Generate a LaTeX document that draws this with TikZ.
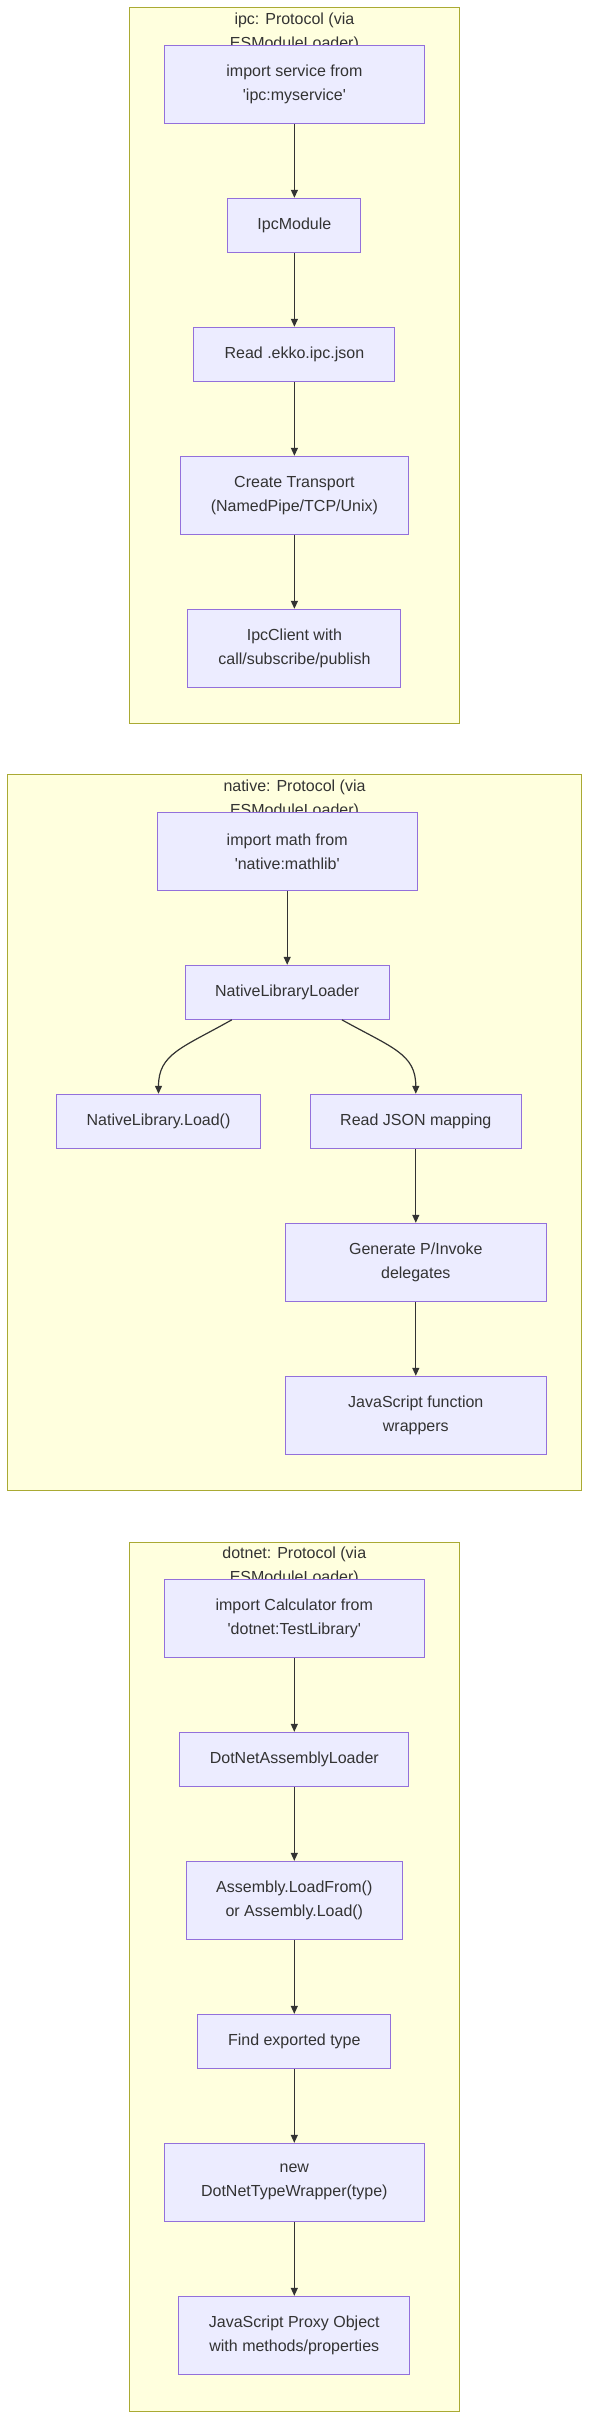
\documentclass[tikz,border=0pt]{standalone}
\usepackage{fontspec}
\setmainfont{Liberation Sans}
\usetikzlibrary{arrows.meta,calc}
\definecolor{clfill}{HTML}{FFFFDE}
\definecolor{clline}{HTML}{AAAA33}
\definecolor{ndfill}{HTML}{ECECFF}
\definecolor{ndline}{HTML}{9370DB}
\definecolor{txt}{HTML}{333333}
\newcommand{\q}{\textquotesingle}
\begin{document}
\begin{tikzpicture}[x=1pt,y=-1pt,
  cluster/.style={draw=clline,fill=clfill,line width=1pt},
  ctitle/.style={text=txt,font=\fontsize{16}{24}\selectfont,align=center,inner sep=0pt},
  box/.style={draw=ndline,fill=ndfill,line width=1pt,text=txt,
    font=\fontsize{16}{24}\selectfont,align=center,inner sep=0pt},
  edge/.style={draw=txt,line width=1.2pt,-{Triangle[length=8pt,width=7pt]}}]
\useasboundingbox (0,0) rectangle (589,2420);
% ---------------- ipc cluster
\draw[cluster] (129.3,7.3) rectangle (459.3,723);
\node[ctitle] (ipct) at (294.4,32) {ipc: Protocol (via\\ESModuleLoader)};
\node[box,minimum width=260pt,minimum height=78pt] (i1) at (294.4,84.3) {import service from\\\q ipc:myservice\q};
\node[box,minimum width=133pt,minimum height=54pt] (i2) at (294.4,225.3) {IpcModule};
\node[box,minimum width=201pt,minimum height=54pt] (i3) at (294.4,354.3) {Read .ekko.ipc.json};
\node[box,minimum width=228pt,minimum height=78pt] (i4) at (294.4,495.3) {Create Transport\\(NamedPipe/TCP/Unix)};
\node[box,minimum width=213pt,minimum height=78pt] (i5) at (294.4,648.3) {IpcClient with\\call/subscribe/publish};
\draw[edge] (i1.south) -- (i2.north);
\draw[edge] (i2.south) -- (i3.north);
\draw[edge] (i3.south) -- (i4.north);
\draw[edge] (i4.south) -- (i5.north);
% ---------------- native cluster
\draw[cluster] (7.5,774.7) rectangle (581.5,1490);
\node[ctitle] (nat) at (294.5,799) {native: Protocol (via\\ESModuleLoader)};
\node[box,minimum width=260pt,minimum height=78pt] (n1) at (287.2,851.3) {import math from\\\q native:mathlib\q};
\node[box,minimum width=204pt,minimum height=54pt] (n2) at (287.2,992.3) {NativeLibraryLoader};
\node[box,minimum width=204pt,minimum height=54pt] (n3) at (158.5,1121.3) {NativeLibrary.Load()};
\node[box,minimum width=211pt,minimum height=54pt] (n4) at (415.8,1121.3) {Read JSON mapping};
\node[box,minimum width=260.5pt,minimum height=78pt] (n5) at (415.8,1262.3) {Generate P/Invoke\\delegates};
\node[box,minimum width=260.5pt,minimum height=78pt] (n6) at (415.8,1415.3) {JavaScript function\\wrappers};
\draw[edge] (n1.south) -- (n2.north);
\draw[edge] ($(n2.south)+(-55.4,0)$) .. controls ($(n2.south)+(-105,28)$) and ($(n3.north)+(0,-40)$) .. (n3.north);
\draw[edge] ($(n2.south)+(54.7,0)$) .. controls ($(n2.south)+(105,28)$) and ($(n4.north)+(0,-40)$) .. (n4.north);
\draw[edge] (n4.south) -- (n5.north);
\draw[edge] (n5.south) -- (n6.north);
% ---------------- dotnet cluster
\draw[cluster] (129.3,1542) rectangle (459.3,2411.7);
\node[ctitle] (dot) at (294.3,1566) {dotnet: Protocol (via\\ESModuleLoader)};
\node[box,minimum width=260pt,minimum height=78pt] (d1) at (294.3,1618.3) {import Calculator from\\\q dotnet:TestLibrary\q};
\node[box,minimum width=228.7pt,minimum height=54pt] (d2) at (294.3,1759.3) {DotNetAssemblyLoader};
\node[box,minimum width=216pt,minimum height=78pt] (d3) at (294.3,1900.3) {Assembly.LoadFrom()\\or Assembly.Load()};
\node[box,minimum width=193pt,minimum height=54pt] (d4) at (294.3,2041.3) {Find exported type};
\node[box,minimum width=260pt,minimum height=78pt] (d5) at (294.3,2182.3) {new\\DotNetTypeWrapper(type)};
\node[box,minimum width=230.7pt,minimum height=78pt] (d6) at (294.3,2335.3) {JavaScript Proxy Object\\with methods/properties};
\draw[edge] (d1.south) -- (d2.north);
\draw[edge] (d2.south) -- (d3.north);
\draw[edge] (d3.south) -- (d4.north);
\draw[edge] (d4.south) -- (d5.north);
\draw[edge] (d5.south) -- (d6.north);
\end{tikzpicture}
\end{document}
